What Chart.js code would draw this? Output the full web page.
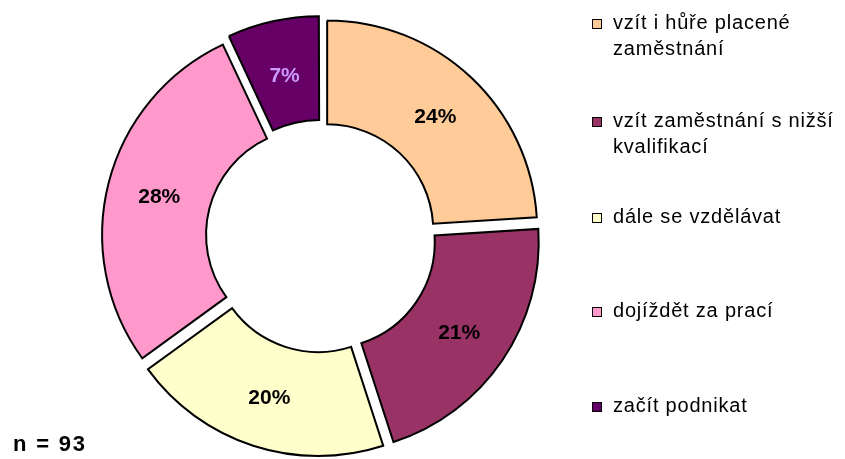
<!DOCTYPE html>
<html>
<head>
<meta charset="utf-8">
<script src="https://cdn.jsdelivr.net/npm/chart.js@4/dist/chart.umd.min.js"></script>
<style>
  html, body { margin: 0; padding: 0; background: #fff; }
  #wrap { position: relative; width: 845px; height: 459px; overflow: hidden; }
  #c { position: absolute; left: 0; top: 0; }
  .leg { position: absolute; left: 592px; font-family: "Liberation Sans", Arial, sans-serif; font-size: 20px; letter-spacing: 0.8px; line-height: 26px; color: #000; }
  .leg .sw { position: absolute; left: 0; width: 8px; height: 8px; border: 1px solid #000; }
  .leg .tx { position: absolute; left: 21px; white-space: nowrap; }
  #n { position: absolute; left: 13px; top: 431px; font-family: "Liberation Sans", Arial, sans-serif; font-weight: bold; font-size: 22px; letter-spacing: 1.8px; color: #000; }
</style>
</head>
<body>
<div id="wrap">
  <canvas id="c" width="845" height="459"></canvas>
  <div id="n">n = 93</div>
</div>
<script>
const categories = [
  "vzít i hůře placené\nzaměstnání",
  "vzít zaměstnání s nižší\nkvalifikací",
  "dále se vzdělávat",
  "dojíždět za prací",
  "začít podnikat"
];
const values = [24, 21, 20, 28, 7];
const colors = ["#FFCC99", "#993366", "#FFFFCC", "#FF99CC", "#660066"];
const labelColors = ["#000000", "#000000", "#000000", "#000000", "#CC99FF"];
const offsets = [36, 36, 36, 36, 28];
const legendTops = [9, 107, 203, 297, 392];

// HTML legend built from categories
const wrap = document.getElementById('wrap');
categories.forEach((cat, i) => {
  const d = document.createElement('div');
  d.className = 'leg';
  d.style.top = legendTops[i] + 'px';
  const sw = document.createElement('div');
  sw.className = 'sw';
  sw.style.top = '10px';
  sw.style.background = colors[i];
  const tx = document.createElement('div');
  tx.className = 'tx';
  tx.innerHTML = cat.split('\n').map(s => s.replace(/&/g,'&amp;')).join('<br>');
  d.appendChild(sw);
  d.appendChild(tx);
  wrap.appendChild(d);
});

const pctLabels = {
  id: 'pctLabels',
  afterDatasetsDraw(chart) {
    const ctx = chart.ctx;
    const meta = chart.getDatasetMeta(0);
    ctx.save();
    ctx.font = 'bold 21px "Liberation Sans", Arial, sans-serif';
    ctx.textAlign = 'center';
    ctx.textBaseline = 'middle';
    meta.data.forEach((arc, i) => {
      const p = arc.getProps(['x', 'y', 'startAngle', 'endAngle', 'innerRadius', 'outerRadius']);
      const a = (p.startAngle + p.endAngle) / 2;
      const r = (p.innerRadius + p.outerRadius) / 2 + 9;
      ctx.fillStyle = labelColors[i];
      ctx.fillText(values[i] + '%', p.x + Math.cos(a) * r, p.y + Math.sin(a) * r + 2);
    });
    ctx.restore();
  }
};

new Chart(document.getElementById('c'), {
  type: 'doughnut',
  data: {
    labels: categories,
    datasets: [{
      data: values,
      backgroundColor: colors,
      borderColor: '#000000',
      borderWidth: 2,
      borderJoinStyle: 'miter',
      offset: offsets,
      hoverOffset: 0,
      clip: false
    }]
  },
  options: {
    responsive: false,
    devicePixelRatio: 1,
    animation: false,
    events: [],
    radius: 210,
    cutout: '50.5%',
    layout: { padding: { left: 0, right: 203, top: 15, bottom: 0 } },
    plugins: {
      legend: { display: false },
      tooltip: { enabled: false },
      title: { display: false }
    }
  },
  plugins: [pctLabels]
});
</script>
</body>
</html>
